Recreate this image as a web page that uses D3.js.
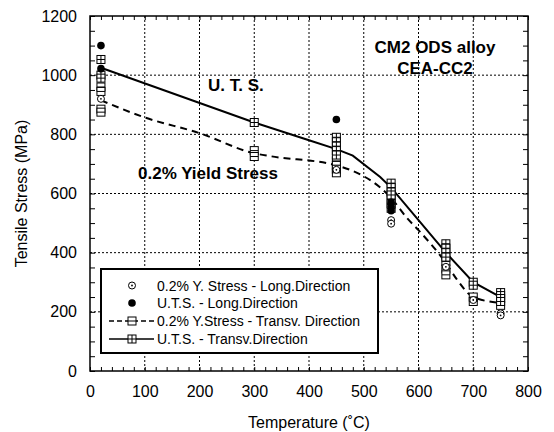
<!DOCTYPE html>
<html>
<head>
<meta charset="UTF-8">
<style>
body { margin: 0; background: #fff; }
text { font-family: "Liberation Sans", Arial, sans-serif; fill: #000; }
.grid line { stroke: #000; stroke-width: 1; stroke-dasharray: 2,2; }
.axis path, .axis line { stroke: #000; }
.axis text { font-size: 16px; }
.note { font-size: 17px; font-weight: bold; }
.legend text { font-size: 14px; }
</style>
</head>
<body>
<svg id="chart" width="554" height="432"></svg>
<script src="https://d3js.org/d3.v7.min.js"></script>
<script>
// ticks
var xTicks = [0, 100, 200, 300, 400, 500, 600, 700, 800];
var yTicks = [0, 200, 400, 600, 800, 1000, 1200];

// mean curves
var ysCurveT = [20, 100, 200, 300, 330, 450, 475, 550, 580, 600, 650, 670, 700, 750];
var ysCurveV = [915, 857, 804, 736, 726, 695, 680, 585, 515, 476, 365, 310, 250, 230];
var utsCurveT = [20, 300, 400, 450, 480, 530, 550, 650, 700, 750];
var utsCurveV = [1025, 840, 780, 750, 728, 656, 620, 400, 300, 250];

// 0.2% Y. Stress - Long. direction (open circles)
var ysLongT = [20, 450, 550, 550, 650, 700, 750, 750];
var ysLongV = [920, 680, 510, 498, 352, 240, 195, 188];
// U.T.S. - Long. direction (filled circles)
var utsLongT = [20, 20, 450, 550, 550, 550];
var utsLongV = [1100, 1022, 850, 570, 555, 542];
// 0.2% Y. Stress - Transv. direction (squares with bar)
var ysTrT = [20, 20, 20, 20, 300, 300, 450, 450, 450, 450, 550, 550, 550, 650, 650, 650, 700, 700, 750];
var ysTrV = [960, 945, 885, 875, 745, 725, 710, 695, 682, 670, 580, 565, 550, 370, 345, 325, 250, 235, 222];
// U.T.S. - Transv. direction (squares with cross)
var utsTrT = [20, 20, 20, 300, 450, 450, 450, 450, 450, 550, 550, 550, 550, 650, 650, 650, 650, 700, 700, 750, 750, 750, 750];
var utsTrV = [1053, 1000, 990, 840, 790, 775, 760, 745, 730, 635, 620, 605, 595, 430, 415, 400, 385, 300, 290, 265, 255, 245, 235];

var legendLabels = ["0.2% Y. Stress - Long.Direction", "U.T.S. - Long.Direction",
  "0.2% Y.Stress - Transv. Direction", "U.T.S. - Transv.Direction"];

var svg = d3.select("#chart");
var L = 90, R = 528, T = 16, B = 371;

var x = d3.scaleLinear().domain([0, 800]).range([L, R]);
var y = d3.scaleLinear().domain([0, 1200]).range([B, T]);

// dotted grid
var grid = svg.append("g").attr("class", "grid");
grid.selectAll(".gx").data(xTicks.slice(1, -1)).enter().append("line")
  .attr("x1", d => x(d)).attr("x2", d => x(d)).attr("y1", T).attr("y2", B);
grid.selectAll(".gy").data(yTicks.slice(1, -1)).enter().append("line")
  .attr("y1", d => y(d)).attr("y2", d => y(d)).attr("x1", L).attr("x2", R);

// axes, ticks pointing inward
var xMinor = d3.range(0, 801, 20), yMinor = d3.range(0, 1201, 50);
function addAxis(axis, tf, showLabels) {
  var g = svg.append("g").attr("class", "axis").attr("transform", tf).call(axis);
  g.select(".domain").remove();
  if (!showLabels) g.selectAll("text").remove();
  return g;
}
addAxis(d3.axisBottom(x).tickValues(xMinor).tickSize(-4).tickFormat(""), "translate(0," + B + ")", false);
addAxis(d3.axisTop(x).tickValues(xMinor).tickSize(-4).tickFormat(""), "translate(0," + T + ")", false);
addAxis(d3.axisLeft(y).tickValues(yMinor).tickSize(-5).tickFormat(""), "translate(" + L + ",0)", false);
addAxis(d3.axisRight(y).tickValues(yMinor).tickSize(-5).tickFormat(""), "translate(" + R + ",0)", false);
addAxis(d3.axisBottom(x).tickValues(xTicks).tickSize(0).tickPadding(15).tickFormat(d3.format("d")), "translate(0," + B + ")", true);
addAxis(d3.axisLeft(y).tickValues(yTicks).tickSize(0).tickPadding(13).tickFormat(d3.format("d")), "translate(" + L + ",0)", true);
svg.selectAll(".axis line").attr("stroke-width", 1);

svg.append("rect").attr("x", L).attr("y", T).attr("width", R - L).attr("height", B - T)
  .attr("fill", "none").attr("stroke", "#000").attr("stroke-width", 1.5);

// axis titles
svg.append("text").attr("x", (L + R) / 2).attr("y", 428).attr("text-anchor", "middle")
  .attr("font-size", 16).text("Temperature (˚C)");
svg.append("text").attr("transform", "translate(27," + (T + B) / 2 + ") rotate(-90)")
  .attr("text-anchor", "middle").attr("font-size", 16).text("Tensile Stress (MPa)");

// curves
var line = d3.line().x(d => x(d[0])).y(d => y(d[1])).curve(d3.curveMonotoneX);
svg.append("path").datum(d3.zip(ysCurveT, ysCurveV)).attr("d", line)
  .attr("fill", "none").attr("stroke", "#000").attr("stroke-width", 2).attr("stroke-dasharray", "7,5");
svg.append("path").datum(d3.zip(utsCurveT, utsCurveV)).attr("d", line.curve(d3.curveLinear))
  .attr("fill", "none").attr("stroke", "#000").attr("stroke-width", 2);

// marker drawers
function sqBar(g, cx, cy) {
  g.append("rect").attr("x", cx - 4).attr("y", cy - 4).attr("width", 8).attr("height", 8)
    .attr("fill", "#fff").attr("stroke", "#000").attr("stroke-width", 1);
  g.append("line").attr("x1", cx - 4).attr("x2", cx + 4).attr("y1", cy).attr("y2", cy).attr("stroke", "#000");
}
function sqCross(g, cx, cy) {
  sqBar(g, cx, cy);
  g.append("line").attr("x1", cx).attr("x2", cx).attr("y1", cy - 4).attr("y2", cy + 4).attr("stroke", "#000");
}
function circDot(g, cx, cy) {
  g.append("circle").attr("cx", cx).attr("cy", cy).attr("r", 3.5)
    .attr("fill", "#fff").attr("stroke", "#000").attr("stroke-width", 1);
  g.append("circle").attr("cx", cx).attr("cy", cy).attr("r", 0.9).attr("fill", "#000");
}
function circFill(g, cx, cy) {
  g.append("circle").attr("cx", cx).attr("cy", cy).attr("r", 3.8).attr("fill", "#000");
}

var pts = svg.append("g");
d3.zip(ysTrT, ysTrV).forEach(d => sqBar(pts, x(d[0]), y(d[1])));
d3.zip(utsTrT, utsTrV).forEach(d => sqCross(pts, x(d[0]), y(d[1])));
d3.zip(ysLongT, ysLongV).forEach(d => circDot(pts, x(d[0]), y(d[1])));
d3.zip(utsLongT, utsLongV).forEach(d => circFill(pts, x(d[0]), y(d[1])));

// annotations
svg.append("text").attr("class", "note").attr("x", 208).attr("y", 91).text("U. T. S.");
svg.append("text").attr("class", "note").attr("x", 138).attr("y", 179).text("0.2% Yield Stress");
svg.append("text").attr("class", "note").attr("x", 435).attr("y", 53).attr("text-anchor", "middle").text("CM2 ODS alloy");
svg.append("text").attr("class", "note").attr("x", 435).attr("y", 74).attr("text-anchor", "middle").text("CEA-CC2");

// legend
var lg = svg.append("g").attr("class", "legend");
lg.append("rect").attr("x", 101).attr("y", 269).attr("width", 277).attr("height", 84)
  .attr("fill", "#fff").attr("stroke", "#000").attr("stroke-width", 2);
var rowY = [285.5, 303, 321, 339];
legendLabels.forEach(function (lab, i) {
  var cy = rowY[i], cx = 132;
  if (i === 2) lg.append("line").attr("x1", 109).attr("x2", 154).attr("y1", cy).attr("y2", cy)
    .attr("stroke", "#000").attr("stroke-width", 1.5).attr("stroke-dasharray", "5,3");
  if (i === 3) lg.append("line").attr("x1", 109).attr("x2", 154).attr("y1", cy).attr("y2", cy)
    .attr("stroke", "#000").attr("stroke-width", 1.5);
  [circDot, circFill, sqBar, sqCross][i](lg, cx, cy);
  lg.append("text").attr("x", 157).attr("y", cy + 5).text(lab);
});
</script>
</body>
</html>
